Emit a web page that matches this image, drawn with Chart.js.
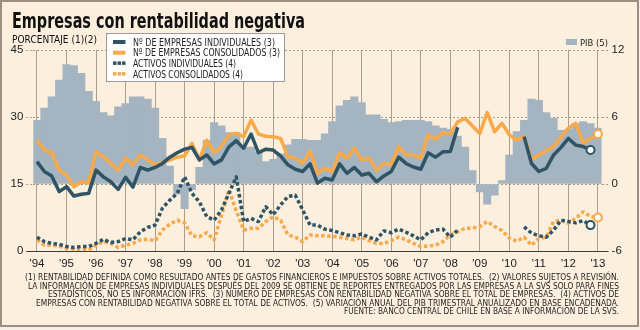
<!DOCTYPE html>
<html>
<head>
<meta charset="utf-8">
<script src="https://cdn.jsdelivr.net/npm/chart.js@4.4.1/dist/chart.umd.min.js"></script>
<style>
  html, body { margin: 0; padding: 0; background: #f6efe6; }
  canvas { display: block; }
</style>
</head>
<body>
<canvas id="chart" width="640" height="330"></canvas>
<script>
// years shown on the x axis, data is quarterly from 1994 Q1 to 2013 Q1
const years = ['94', '95', '96', '97', '98', '99', '00', '01', '02', '03',
               '04', '05', '06', '07', '08', '09', '10', '11', '12', '13'];
const quarters = [];
years.forEach(y => ['1', '2', '3', '4'].forEach(q => quarters.push(y + 'T' + q)));
quarters.length = 77;

const leftTicks = [0, 15, 30, 45];
const rightTicks = [-6, 0, 6, 12];

// PIB (5), right axis
const pib = [5.7, 6.8, 7.8, 9.3, 10.7, 10.6, 9.9, 8.3, 7.4, 6.4,
             6.1, 6.9, 7.2, 7.8, 7.8, 7.6, 6.8, 4.1, 1.6, -0.9,
             -2.2, -0.5, 1.5, 3.9, 5.5, 5.2, 4.6, 4.6, 3.3, 3.3,
             2.9, 2.0, 2.2, 2.7, 3.5, 4.0, 4.0, 3.9, 3.9, 4.5,
             5.6, 7.0, 7.5, 7.8, 7.3, 6.2, 6.2, 5.8, 5.5, 5.6,
             5.7, 5.7, 5.7, 5.6, 5.2, 5.0, 4.9, 4.3, 3.3, 1.2,
             -0.7, -1.8, -1.0, 0.3, 2.6, 4.7, 5.7, 7.6, 7.5, 6.4,
             5.9, 4.8, 4.9, 5.4, 5.6, 5.4, 5.0];

// Nº de empresas individuales (3)
const empInd = [20.0, 17.8, 16.8, 13.3, 14.4, 12.3, 12.7, 12.9, 18.1, 16.6,
                15.5, 13.8, 16.5, 14.3, 18.7, 18.1, 18.7, 19.6, 21.0, 22.0,
                22.8, 23.2, 20.4, 21.5, 19.5, 20.4, 23.3, 24.7, 23.0, 26.2,
                22.0, 22.8, 22.6, 21.3, 19.3, 18.3, 17.8, 19.5, 15.2, 16.3,
                15.9, 19.5, 17.4, 18.7, 17.0, 17.4, 15.5, 16.8, 17.8, 21.0,
                19.6, 18.8, 18.3, 22.0, 21.0, 22.2, 22.3, 27.7, null, null,
                null, null, null, null, null, null, 25.6, 19.6, 17.8, 18.5,
                21.5, 23.2, 25.2, 23.7, 23.4, 22.6, null];

// Nº de empresas consolidados (3)
const empCons = [24.8, 22.6, 22.0, 18.1, 17.0, 14.4, 15.5, 15.2, 22.2, 21.1,
                 19.6, 18.1, 20.8, 19.3, 21.5, 20.4, 19.3, 19.8, 20.4, 21.0,
                 21.3, 24.1, 20.4, 24.8, 22.0, 23.4, 26.0, 26.3, 25.6, 29.3,
                 26.2, 25.7, 25.6, 25.2, 21.1, 20.8, 19.6, 22.4, 17.4, 18.5,
                 17.8, 22.0, 20.8, 23.0, 20.4, 20.8, 18.1, 19.6, 19.3, 23.4,
                 21.5, 21.5, 20.8, 26.0, 25.0, 26.5, 26.2, 28.9, 29.7, 28.0,
                 26.3, 31.0, 26.7, 28.6, 26.0, 24.8, 25.6, 20.4, 21.5, 22.5,
                 23.4, 25.5, 27.5, 28.6, 24.1, 25.2, 26.2];

// Activos individuales (4)
const actInd = [3.1, 2.1, 1.7, 1.5, 1.0, 0.8, 1.0, 1.0, 1.7, 2.6,
                1.9, 2.1, 2.8, 2.5, 4.3, 5.3, 5.8, 9.6, 11.4, 12.9,
                16.6, 12.9, 11.0, 7.7, 6.9, 9.2, 12.9, 16.6, 6.6, 7.3,
                6.6, 9.9, 8.1, 10.3, 12.2, 12.5, 9.2, 5.8, 5.8, 4.9,
                4.6, 4.1, 3.6, 3.4, 3.8, 3.1, 2.5, 4.5, 4.1, 4.9,
                4.2, 3.4, 2.5, 4.1, 4.7, 4.9, 3.1, 4.7, null, null,
                null, null, null, null, null, null, 5.4, 4.0, 3.4, 3.1,
                4.7, 6.9, 6.6, 6.3, 6.8, 5.8, null];

// Activos consolidados (4)
const actCons = [2.5, 1.3, 1.3, 1.1, 0.6, 0.4, 0.4, 0.2, 1.3, 2.1,
                 1.7, 0.8, 1.3, 1.7, 2.5, 2.6, 2.3, 4.7, 6.0, 6.9,
                 6.3, 3.4, 3.2, 4.1, 2.5, 8.0, 13.7, 9.0, 4.7, 5.1,
                 5.1, 6.6, 7.7, 6.9, 3.6, 3.1, 2.1, 3.6, 3.4, 3.4,
                 3.3, 3.1, 2.8, 2.5, 3.1, 2.3, 1.7, 1.7, 2.3, 3.1,
                 2.5, 1.7, 1.0, 1.1, 1.3, 2.1, 3.6, 4.3, 5.1, 5.1,
                 5.5, 6.6, 5.5, 4.6, 2.9, 2.2, 3.1, 1.3, 2.8, 3.1,
                 6.6, 6.9, 6.2, 7.3, 8.8, 7.7, 7.5];

const DARK = '#2e5466';
const ORANGE = '#f8aa4b';
const GREY = '#a4b4c0';
const FONT = '"Liberation Sans", Arial, sans-serif';
const NARROW = '"DejaVu Sans", Verdana, sans-serif';

const footnote = [
  '(1) RENTABILIDAD DEFINIDA COMO RESULTADO ANTES DE GASTOS FINANCIEROS E IMPUESTOS SOBRE ACTIVOS TOTALES.  (2) VALORES SUJETOS A REVISIÓN.',
  'LA INFORMACIÓN DE EMPRESAS INDIVIDUALES DESPUÉS DEL 2009 SE OBTIENE DE REPORTES ENTREGADOS POR LAS EMPRESAS A LA SVS SOLO PARA FINES',
  'ESTADÍSTICOS, NO ES INFORMACIÓN IFRS.  (3) NUMERO DE EMPRESAS CON RENTABILIDAD NEGATIVA SOBRE EL TOTAL DE EMPRESAS.  (4) ACTIVOS DE',
  'EMPRESAS CON RENTABILIDAD NEGATIVA SOBRE EL TOTAL DE ACTIVOS.  (5) VARIACIÓN ANUAL DEL PIB TRIMESTRAL ANUALIZADO EN BASE ENCADENADA.',
  'FUENTE: BANCO CENTRAL DE CHILE EN BASE A INFORMACIÓN DE LA SVS.'
];
const footWidths = [594, 591, 571, 583, 275];

const legendRows = [
  ['Nº DE EMPRESAS INDIVIDUALES (3)', DARK, false, 142],
  ['Nº DE EMPRESAS CONSOLIDADOS (3)', ORANGE, false, 147],
  ['ACTIVOS INDIVIDUALES (4)', DARK, true, 103],
  ['ACTIVOS CONSOLIDADOS (4)', ORANGE, true, 110]
];

// last non-null index of a series, gets the open circle
function lastIndex(arr) {
  for (let i = arr.length - 1; i >= 0; i--) if (arr[i] !== null) return i;
  return -1;
}

function lineSet(label, data, color, dotted, order) {
  const last = lastIndex(data);
  return {
    type: 'line',
    label: label,
    data: data,
    yAxisID: 'y',
    borderColor: color,
    borderWidth: 3.5,
    borderDash: dotted ? [3.5, 2.5] : [],
    borderCapStyle: 'butt',
    borderJoinStyle: 'round',
    tension: 0,
    spanGaps: false,
    pointRadius: ctx => ctx.dataIndex === last ? 4 : 0,
    pointBackgroundColor: '#ffffff',
    pointBorderColor: color,
    pointBorderWidth: 2,
    order: order
  };
}

// draw text squeezed to a given width (the original uses a narrow face)
function fitText(c, text, x, y, width, align) {
  const w = c.measureText(text).width;
  const s = width / w;
  c.save();
  c.translate(align === 'right' ? x - width : x, y);
  c.scale(s, 1);
  c.textAlign = 'left';
  c.fillText(text, 0, 0);
  c.restore();
}

const decor = {
  id: 'decor',
  beforeDraw(chart) {
    const c = chart.ctx;
    c.save();
    c.fillStyle = '#f6efe6';
    c.fillRect(0, 0, 640, 330);
    c.fillStyle = '#fcefdd';
    c.fillRect(1, 1, 637, 325);
    c.strokeStyle = '#a08e80';
    c.lineWidth = 2;
    c.strokeRect(1, 1, 637, 325);
    c.restore();
  },
  afterDraw(chart) {
    const c = chart.ctx;
    const a = chart.chartArea;
    c.save();

    // base line of the chart
    c.strokeStyle = '#3c3c3c';
    c.lineWidth = 1;
    c.beginPath();
    c.moveTo(a.left - 7, a.bottom + 0.5);
    c.lineTo(a.right + 7, a.bottom + 0.5);
    c.stroke();

    // title and unit
    c.fillStyle = '#111111';
    c.textBaseline = 'alphabetic';
    c.font = 'bold 20.5px ' + NARROW;
    fitText(c, 'Empresas con rentabilidad negativa', 12, 27.5, 293);
    c.font = '9.6px ' + NARROW;
    fitText(c, 'PORCENTAJE (1)(2)', 12, 43, 85);

    // legend box
    c.fillStyle = '#ffffff';
    c.fillRect(106, 33, 179, 49);
    c.strokeStyle = '#9a9a9a';
    c.lineWidth = 1;
    c.strokeRect(106.5, 33.5, 178, 48);
    c.font = '10px ' + NARROW;
    legendRows.forEach((r, i) => {
      const cy = 42 + i * 10.7;
      c.fillStyle = r[1];
      if (r[2]) {
        [113, 117.5, 122].forEach(px => c.fillRect(px, cy - 2, 3.5, 3.5));
      } else {
        c.fillRect(113, cy - 2, 12.5, 4);
      }
      c.fillStyle = '#222222';
      fitText(c, r[0], 133, cy + 3.6, r[3]);
    });

    // PIB legend
    c.fillStyle = GREY;
    c.fillRect(566, 39, 11, 6);
    c.fillStyle = '#222222';
    c.font = '9.5px ' + NARROW;
    fitText(c, 'PIB (5)', 580, 45.5, 28);

    // footnote
    c.font = '8.3px ' + NARROW;
    c.fillStyle = '#1e1e1e';
    footnote.forEach((t, i) => {
      fitText(c, t, 619, 280 + i * 8.5, footWidths[i], 'right');
    });
    c.restore();
  }
};

const gridDash = 'rgba(140,125,110,0.75)';

new Chart(document.getElementById('chart'), {
  type: 'bar',
  data: {
    labels: quarters,
    datasets: [
      lineSet('Nº DE EMPRESAS INDIVIDUALES (3)', empInd, DARK, false, 1),
      lineSet('Nº DE EMPRESAS CONSOLIDADOS (3)', empCons, ORANGE, false, 2),
      lineSet('ACTIVOS INDIVIDUALES (4)', actInd, DARK, true, 3),
      lineSet('ACTIVOS CONSOLIDADOS (4)', actCons, ORANGE, true, 4),
      {
        type: 'bar',
        label: 'PIB (5)',
        data: pib,
        yAxisID: 'y2',
        backgroundColor: GREY,
        borderWidth: 0,
        barPercentage: 1,
        categoryPercentage: 1,
        order: 10
      }
    ]
  },
  options: {
    responsive: false,
    animation: false,
    devicePixelRatio: 1,
    layout: { padding: { top: 50, left: 0, right: 0, bottom: 0 } },
    plugins: {
      legend: { display: false },
      tooltip: { enabled: false }
    },
    scales: {
      x: {
        type: 'category',
        offset: true,
        afterFit: s => { s.height = 79; },
        grid: {
          offset: false,
          drawTicks: false,
          color: ctx => (ctx.index % 4 === 0 ? 'rgba(150,130,112,0.75)' : 'rgba(0,0,0,0)'),
          lineWidth: 1
        },
        border: { display: true, color: '#3c3c3c', width: 1 },
        ticks: {
          autoSkip: false,
          maxRotation: 0,
          minRotation: 0,
          padding: 6,
          color: '#222222',
          font: { family: FONT, size: 11.5 },
          callback: (v, i) => (i % 4 === 0 ? "'" + years[i / 4] : '')
        }
      },
      y: {
        position: 'left',
        min: 0,
        max: 45,
        afterFit: s => { s.width = 33.3; },
        afterBuildTicks: s => { s.ticks = leftTicks.map(v => ({ value: v })); },
        grid: {
          color: gridDash,
          lineWidth: 1,
          tickLength: 7,
          tickColor: gridDash,
          tickBorderDash: [2, 2]
        },
        border: { display: false, dash: [2, 2] },
        ticks: {
          padding: 3,
          color: '#222222',
          font: { family: FONT, size: 11.5 }
        }
      },
      y2: {
        position: 'right',
        min: -6,
        max: 12,
        afterFit: s => { s.width = 38.4; },
        afterBuildTicks: s => { s.ticks = rightTicks.map(v => ({ value: v })); },
        grid: {
          drawOnChartArea: false,
          tickLength: 7,
          tickColor: gridDash,
          tickBorderDash: [2, 2]
        },
        border: { display: false },
        ticks: {
          padding: 3,
          color: '#222222',
          font: { family: FONT, size: 11.5 }
        }
      }
    }
  },
  plugins: [decor]
});
</script>
</body>
</html>
